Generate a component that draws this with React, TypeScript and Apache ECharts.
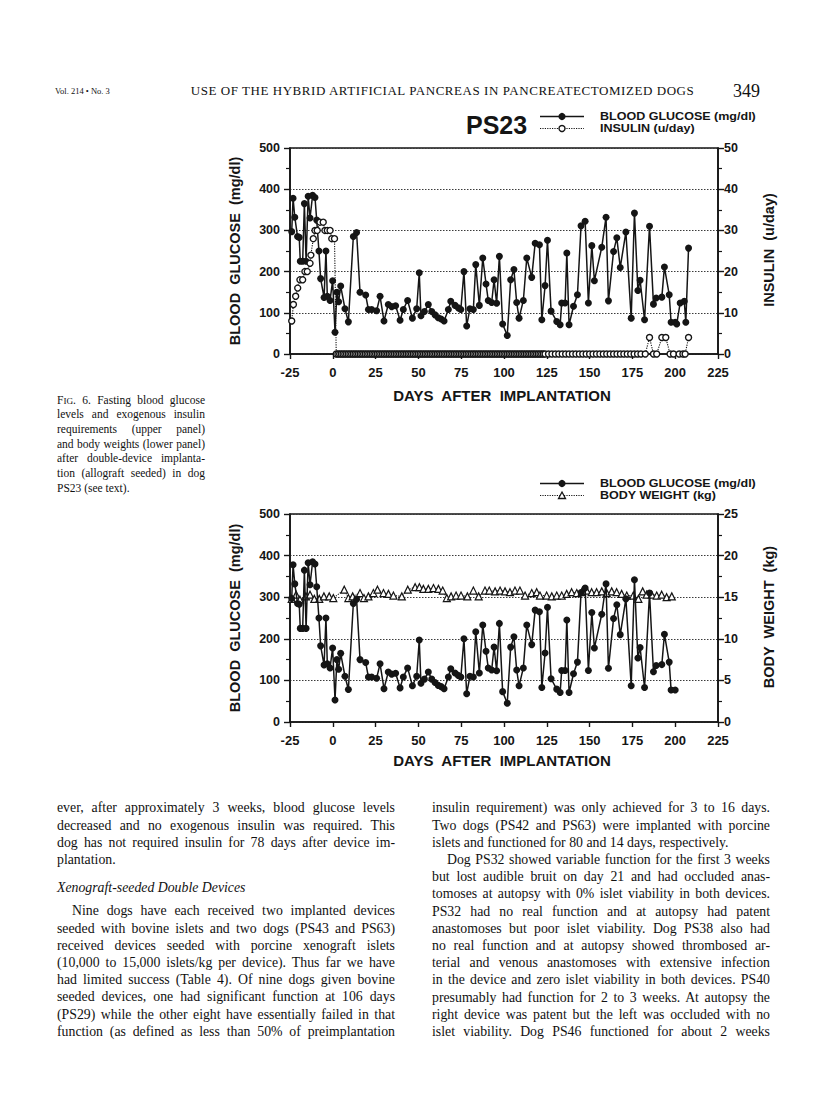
import React, { useEffect, useRef } from "react";
import * as echarts from "echarts";

// ---------------- DATA ----------------
const X_MIN = -25;
const X_MAX = 225;
const X_STEP = 25;

// Fasting blood glucose (mg/dl), by day after implantation
const GLUCOSE_DAYS = [
  -24.0, -23.2, -22.2, -20.6, -19.6, -19.0, -17.6, -16.6, -15.6, -14.4,
  -13.3, -11.8, -10.4, -9.4, -8.1, -7.1, -5.1, -4.0, -3.2, -1.6,
  -0.1, 1.3, 2.4, 3.4, 4.6, 7.1, 9.1, 12.0, 13.9, 15.9,
  19.2, 20.8, 22.7, 25.6, 27.6, 29.9, 32.4, 34.4, 36.7, 39.3,
  41.2, 43.7, 46.5, 49.0, 50.5, 51.5, 53.5, 55.8, 57.8, 59.7,
  61.6, 63.3, 65.0, 67.5, 68.9, 71.4, 73.3, 74.8, 76.6, 78.2,
  80.1, 82.1, 83.5, 85.6, 87.6, 89.5, 90.8, 92.8, 94.2, 95.7,
  97.3, 99.2, 101.9, 103.9, 105.8, 107.4, 108.8, 111.3, 113.3, 116.2,
  118.2, 120.7, 122.1, 124.0, 125.4, 127.5, 130.8, 132.8, 133.7, 135.7,
  136.7, 138.0, 140.6, 142.9, 145.0, 147.4, 149.3, 151.3, 152.8, 157.1,
  159.6, 161.0, 164.0, 165.9, 167.9, 171.2, 174.3, 176.2, 178.2, 179.5,
  182.1, 185.0, 187.3, 188.9, 192.2, 193.7, 196.5, 197.6, 200.0, 200.9,
  202.9, 205.3, 206.2, 207.8,
];
const GLUCOSE_MG_DL = [
  297, 378, 332, 285, 283, 225, 225, 365, 225, 383,
  330, 385, 380, 325, 250, 183, 137, 250, 140, 130,
  178, 53, 150, 127, 165, 110, 78, 285, 295, 150,
  143, 108, 108, 105, 140, 80, 120, 115, 117, 82,
  108, 130, 87, 110, 197, 93, 103, 120, 103, 95,
  88, 85, 80, 108, 128, 118, 112, 108, 200, 68,
  110, 108, 217, 118, 233, 170, 130, 125, 180, 123,
  237, 73, 45, 180, 205, 125, 87, 130, 233, 186,
  269, 265, 83, 166, 276, 104, 79, 71, 124, 124,
  245, 71, 116, 144, 311, 322, 124, 263, 178, 259,
  332, 129, 249, 282, 210, 296, 87, 342, 154, 179,
  83, 310, 121, 136, 138, 211, 144, 77, 77, 73,
  124, 128, 77, 257,
];

// Exogenous insulin (u/day)
const INSULIN_DAYS = [
  -24.0, -23.0, -21.7, -20.5, -19.2, -17.6, -16.3, -14.9, -13.3, -12.8,
  -11.4, -10.4, -9.1, -7.5, -5.6, -4.6, -3.2, -1.6, -0.6, 1.0,
  2, 3, 4, 5, 6, 7, 8, 9, 10, 11, 12, 13, 14, 15, 16, 17, 18, 19, 20, 21,
  22, 23, 24, 25, 26, 27, 28, 29, 30, 31, 32, 33, 34, 35, 36, 37, 38, 39, 40, 41,
  42, 43, 44, 45, 46, 47, 48, 49, 50, 51, 52, 53, 54, 55, 56, 57, 58, 59, 60, 61,
  62, 63, 64, 65, 66, 67, 68, 69, 70, 71, 72, 73, 74, 75, 76, 77, 78, 79, 80, 81,
  82, 83, 84, 85, 86, 87, 88, 89, 90, 91, 92, 93, 94, 95, 96, 97, 98, 99, 100, 101,
  102, 103, 104, 105, 106, 107, 108, 109, 110, 111, 112, 113, 114, 115, 116, 117, 118, 119, 120, 121,
  122, 123, 124, 126, 128, 130, 132, 134, 136, 138, 140, 142, 144, 146, 148, 150, 152, 154, 156, 158,
  160, 162, 164, 166, 168, 170, 172, 174, 176, 178, 180, 182.5,
  185.0, 187.3, 189.2, 192.2, 194.5, 197.0, 199.0, 202.3, 204.5, 205.8, 207.8,
];
const INSULIN_U_DAY = [
  8, 12, 14, 16, 18, 18, 20, 20, 22, 24,
  28, 30, 30, 32, 32, 30, 30, 30, 28, 28,
  0, 0, 0, 0, 0, 0, 0, 0, 0, 0, 0, 0, 0, 0, 0, 0, 0, 0, 0, 0,
  0, 0, 0, 0, 0, 0, 0, 0, 0, 0, 0, 0, 0, 0, 0, 0, 0, 0, 0, 0,
  0, 0, 0, 0, 0, 0, 0, 0, 0, 0, 0, 0, 0, 0, 0, 0, 0, 0, 0, 0,
  0, 0, 0, 0, 0, 0, 0, 0, 0, 0, 0, 0, 0, 0, 0, 0, 0, 0, 0, 0,
  0, 0, 0, 0, 0, 0, 0, 0, 0, 0, 0, 0, 0, 0, 0, 0, 0, 0, 0, 0,
  0, 0, 0, 0, 0, 0, 0, 0, 0, 0, 0, 0, 0, 0, 0, 0, 0, 0, 0, 0,
  0, 0, 0, 0, 0, 0, 0, 0, 0, 0, 0, 0, 0, 0, 0, 0, 0, 0, 0, 0,
  0, 0, 0, 0, 0, 0, 0, 0, 0, 0, 0, 0,
  4, 0, 0, 4, 4, 0, 0, 0, 0, 0, 4,
];

// Body weight (kg)
const WEIGHT_DAYS = [
  -24.0, -21.4, -19.2, -15.7, -13.3, -10.8, -7.9, -5.2, -2.1, 0.3,
  6.7, 9.1, 11.6, 15.9, 18.2, 20.8, 23.7, 26.1, 29.6, 32.5,
  35.4, 40.3, 43.8, 48.1, 50.6, 52.9, 55.8, 58.8, 61.7, 64.2,
  66.6, 69.1, 72.0, 74.9, 78.6, 82.1, 85.2, 88.9, 91.4, 94.8,
  97.7, 100.6, 103.5, 106.4, 109.3, 112.3, 116.2, 119.1, 121.0, 124.9,
  127.9, 130.8, 133.7, 136.6, 139.5, 142.5, 145.4, 148.3, 151.2, 154.1,
  157.1, 160.0, 162.9, 165.8, 168.7, 171.7, 175.5, 178.5, 181.0, 183.3,
  186.3, 189.2, 192.1, 195.0, 198.0,
];
const WEIGHT_KG = [
  14.8, 15.3, 14.7, 15.1, 15.3, 14.8, 14.8, 15.1, 15.1, 14.9,
  15.9, 14.9, 15.1, 15.5, 14.9, 15.1, 15.5, 15.9, 15.5, 15.4,
  15.2, 15.1, 15.9, 16.2, 16.2, 16.0, 16.0, 16.1, 16.0, 15.8,
  14.9, 15.1, 15.2, 15.2, 15.1, 15.8, 15.1, 15.8, 15.8, 15.7,
  15.8, 15.7, 15.6, 15.8, 15.8, 15.2, 15.5, 15.6, 15.2, 15.2,
  15.1, 15.2, 15.2, 15.4, 15.6, 15.5, 15.6, 15.8, 15.6, 15.6,
  15.7, 15.5, 15.7, 15.6, 15.4, 15.2, 15.2, 14.8, 15.7, 15.3,
  15.3, 15.2, 15.3, 15.0, 15.1,
];

// glucose shown in the lower panel runs to this day
const LOWER_PANEL_LAST_DAY = 200;

// ---------------- STYLE ----------------
const INK = "#151515";
const SANS = "'Liberation Sans', Arial, Helvetica, sans-serif";
const SERIF = "'Liberation Serif', 'Times New Roman', Times, serif";

const glucosePairs = GLUCOSE_DAYS.map((d, i) => [d, GLUCOSE_MG_DL[i]]);
const lowerGlucosePairs = glucosePairs.filter((p) => p[0] <= LOWER_PANEL_LAST_DAY);
const insulinPairs = INSULIN_DAYS.map((d, i) => [d, INSULIN_U_DAY[i]]);
const weightPairs = WEIGHT_DAYS.map((d, i) => [d, WEIGHT_KG[i]]);

function xAxis(gridIndex: number) {
  return {
    type: "value",
    gridIndex,
    min: X_MIN,
    max: X_MAX,
    interval: X_STEP,
    axisLine: { show: true, onZero: false, lineStyle: { color: INK, width: 1.6 } },
    axisTick: { show: true, length: 5, lineStyle: { color: INK, width: 1.4 } },
    axisLabel: { color: INK, fontFamily: SANS, fontWeight: "bold", fontSize: 13, margin: 12 },
    splitLine: { show: false },
  };
}

function yAxis(gridIndex: number, position: string, max: number, interval: number, grid: boolean) {
  return {
    type: "value",
    gridIndex,
    position,
    min: 0,
    max,
    interval,
    axisLine: { show: true, onZero: false, lineStyle: { color: INK, width: 1.6 } },
    axisTick: { show: true, length: 6, lineStyle: { color: INK, width: 1.4 } },
    minorTick: { show: true, splitNumber: 2, length: 4, lineStyle: { color: INK, width: 1.2 } },
    axisLabel: {
      color: INK,
      fontFamily: SANS,
      fontWeight: "bold",
      fontSize: 12.5,
      margin: position === "left" ? 10 : 6,
    },
    splitLine: { show: grid, lineStyle: { color: "#3a3a3a", type: [1.5, 1.5], width: 1 } },
  };
}

function t(x: number, y: number, text: string, size: number, align = "center", rot = 0, sx = 1) {
  return {
    type: "text",
    x,
    y,
    rotation: rot,
    scaleX: sx,
    silent: true,
    style: {
      text,
      fill: INK,
      fontFamily: SANS,
      fontWeight: "bold",
      fontSize: size,
      align,
      verticalAlign: "middle",
    },
  };
}

function legendLine(y: number, dotted: boolean) {
  return {
    type: "line",
    silent: true,
    shape: { x1: 540, y1: y, x2: 584, y2: y },
    style: { stroke: INK, lineWidth: dotted ? 1.1 : 1.6, lineDash: dotted ? [1.2, 1.2] : null },
  };
}

const LEG_FONT = 10.8;
const LEG_SX = 1.16;

const graphics: any[] = [
  // upper legend
  t(466, 125, "PS23", 25, "left"),
  legendLine(116.5, false),
  { type: "circle", silent: true, shape: { cx: 562, cy: 116.5, r: 3.6 }, style: { fill: INK } },
  legendLine(128.5, true),
  { type: "circle", silent: true, shape: { cx: 562, cy: 128.5, r: 3 }, style: { fill: "#fff", stroke: INK, lineWidth: 1.4 } },
  t(600, 116, "BLOOD GLUCOSE (mg/dl)", LEG_FONT, "left", 0, LEG_SX),
  t(600, 128, "INSULIN (u/day)", LEG_FONT, "left", 0, LEG_SX),
  // upper axis titles
  t(235, 251, "BLOOD  GLUCOSE  (mg/dl)", 14.5, "center", Math.PI / 2),
  t(769, 250, "INSULIN  (u/day)", 14.5, "center", Math.PI / 2),
  t(502, 395, "DAYS  AFTER  IMPLANTATION", 15),
  // lower legend
  legendLine(483.5, false),
  { type: "circle", silent: true, shape: { cx: 562, cy: 483.5, r: 3.6 }, style: { fill: INK } },
  legendLine(495.5, true),
  {
    type: "polygon",
    silent: true,
    shape: { points: [[562, 492], [565.5, 498.5], [558.5, 498.5]] },
    style: { fill: "#fff", stroke: INK, lineWidth: 1.3 },
  },
  t(600, 483, "BLOOD GLUCOSE (mg/dl)", LEG_FONT, "left", 0, LEG_SX),
  t(600, 495, "BODY WEIGHT (kg)", LEG_FONT, "left", 0, LEG_SX),
  // lower axis titles
  t(235, 618, "BLOOD  GLUCOSE  (mg/dl)", 14.5, "center", Math.PI / 2),
  t(769, 617, "BODY  WEIGHT  (kg)", 14.5, "center", Math.PI / 2),
  t(502, 760, "DAYS  AFTER  IMPLANTATION", 15),
];

const option: any = {
  animation: false,
  backgroundColor: "transparent",
  grid: [
    { left: 290, top: 148, width: 428, height: 206, show: true, borderColor: INK, borderWidth: 1.6, backgroundColor: "transparent" },
    { left: 290, top: 514, width: 428, height: 208, show: true, borderColor: INK, borderWidth: 1.6, backgroundColor: "transparent" },
  ],
  xAxis: [xAxis(0), xAxis(1)],
  yAxis: [
    yAxis(0, "left", 500, 100, true),
    yAxis(0, "right", 50, 10, false),
    yAxis(1, "left", 500, 100, true),
    yAxis(1, "right", 25, 5, false),
  ],
  series: [
    {
      name: "BLOOD GLUCOSE (mg/dl)",
      type: "line",
      xAxisIndex: 0,
      yAxisIndex: 0,
      data: glucosePairs,
      symbol: "circle",
      symbolSize: 7,
      showAllSymbol: true,
      itemStyle: { color: INK },
      lineStyle: { color: INK, width: 1.5 },
      z: 3,
    },
    {
      name: "INSULIN (u/day)",
      type: "line",
      xAxisIndex: 0,
      yAxisIndex: 1,
      data: insulinPairs,
      symbol: "circle",
      symbolSize: 6,
      showAllSymbol: true,
      itemStyle: { color: "#fff", borderColor: INK, borderWidth: 1.4 },
      lineStyle: { color: INK, width: 1.1, type: [1.2, 1.2] },
      z: 4,
    },
    {
      name: "BODY WEIGHT (kg)",
      type: "line",
      xAxisIndex: 1,
      yAxisIndex: 3,
      data: weightPairs,
      symbol: "triangle",
      symbolSize: 7,
      showAllSymbol: true,
      itemStyle: { color: "#fff", borderColor: INK, borderWidth: 1.2 },
      lineStyle: { color: INK, width: 1.1, type: [1.2, 1.2] },
      z: 3,
    },
    {
      name: "BLOOD GLUCOSE (mg/dl) ",
      type: "line",
      xAxisIndex: 1,
      yAxisIndex: 2,
      data: lowerGlucosePairs,
      symbol: "circle",
      symbolSize: 7,
      showAllSymbol: true,
      itemStyle: { color: INK },
      lineStyle: { color: INK, width: 1.5 },
      z: 4,
    },
  ],
  graphic: graphics,
};

// ---------------- PAGE TEXT ----------------
type L = { text: React.ReactNode; cy: number; full?: boolean; indent?: boolean; italic?: boolean };

const LEFT_COL: L[] = [
  { text: "ever, after approximately 3 weeks, blood glucose levels", cy: 808, full: true },
  { text: "decreased and no exogenous insulin was required. This", cy: 825.2, full: true },
  { text: "dog has not required insulin for 78 days after device im-", cy: 842.4, full: true },
  { text: "plantation.", cy: 859.6 },
  { text: "Xenograft-seeded Double Devices", cy: 887.5, italic: true },
  { text: "Nine dogs have each received two implanted devices", cy: 911, full: true, indent: true },
  { text: "seeded with bovine islets and two dogs (PS43 and PS63)", cy: 928.2, full: true },
  { text: "received devices seeded with porcine xenograft islets", cy: 945.4, full: true },
  { text: "(10,000 to 15,000 islets/kg per device). Thus far we have", cy: 962.6, full: true },
  { text: "had limited success (Table 4). Of nine dogs given bovine", cy: 979.8, full: true },
  { text: "seeded devices, one had significant function at 106 days", cy: 997, full: true },
  { text: "(PS29) while the other eight have essentially failed in that", cy: 1014.2, full: true },
  { text: "function (as defined as less than 50% of preimplantation", cy: 1031.4, full: true },
];

const RIGHT_TEXT = [
  "insulin requirement) was only achieved for 3 to 16 days.",
  "Two dogs (PS42 and PS63) were implanted with porcine",
  "islets and functioned for 80 and 14 days, respectively.",
  "Dog PS32 showed variable function for the first 3 weeks",
  "but lost audible bruit on day 21 and had occluded anas-",
  "tomoses at autopsy with 0% islet viability in both devices.",
  "PS32 had no real function and at autopsy had patent",
  "anastomoses but poor islet viability. Dog PS38 also had",
  "no real function and at autopsy showed thrombosed ar-",
  "terial and venous anastomoses with extensive infection",
  "in the device and zero islet viability in both devices. PS40",
  "presumably had function for 2 to 3 weeks. At autopsy the",
  "right device was patent but the left was occluded with no",
  "islet viability. Dog PS46 functioned for about 2 weeks",
];
const RIGHT_COL: L[] = RIGHT_TEXT.map((text, i) => ({
  text,
  cy: 808 + i * 17.2,
  full: i !== 2,
  indent: i === 3,
}));

const CAPTION: L[] = [
  {
    text: (
      <>
        F<span style={{ fontSize: "0.8em" }}>IG</span>. 6. Fasting blood glucose
      </>
    ),
    cy: 400,
    full: true,
  },
  { text: "levels and exogenous insulin", cy: 414.7, full: true },
  { text: "requirements (upper panel)", cy: 429.4, full: true },
  { text: "and body weights (lower panel)", cy: 444.1, full: true },
  { text: "after double-device implanta-", cy: 458.8, full: true },
  { text: "tion (allograft seeded) in dog", cy: 473.5, full: true },
  { text: "PS23 (see text).", cy: 488.2 },
];

function TextBlock({ lines, left, width, size, lh }: { lines: L[]; left: number; width: number; size: number; lh: number }) {
  return (
    <>
      {lines.map((l, i) => (
        <div
          key={i}
          style={{
            position: "absolute",
            left: left + (l.indent ? 15 : 0),
            width: width - (l.indent ? 15 : 0),
            top: l.cy - lh / 2,
            height: lh,
            lineHeight: lh + "px",
            fontFamily: SERIF,
            fontSize: size,
            fontStyle: l.italic ? "italic" : "normal",
            color: "#111",
            textAlign: l.full ? "justify" : "left",
            textAlignLast: l.full ? "justify" : "left",
            overflow: "visible",
          } as any}
        >
          {l.text}
        </div>
      ))}
    </>
  );
}

export default function App() {
  const ref = useRef<HTMLDivElement>(null);
  useEffect(() => {
    if (!ref.current) return;
    const chart = echarts.init(ref.current, null, { renderer: "svg", width: 816, height: 1114 });
    chart.setOption(option);
    return () => chart.dispose();
  }, []);

  return (
    <div style={{ position: "absolute", left: 0, top: 0, width: 816, height: 1114, background: "#fff", overflow: "hidden" }}>
      {/* running head */}
      <div style={{ position: "absolute", left: 55, top: 85, height: 12, lineHeight: "12px", fontFamily: SERIF, fontSize: 8.5, color: "#111", whiteSpace: "nowrap" }}>
        Vol. 214 • No. 3
      </div>
      <div style={{ position: "absolute", left: 180, top: 83, width: 525, height: 16, lineHeight: "16px", fontFamily: SERIF, fontSize: 13, letterSpacing: "0.55px", color: "#111", whiteSpace: "nowrap", textAlign: "center" }}>
        USE OF THE HYBRID ARTIFICIAL PANCREAS IN PANCREATECTOMIZED DOGS
      </div>
      <div style={{ position: "absolute", left: 733, top: 80, height: 22, lineHeight: "22px", fontFamily: SERIF, fontSize: 18, color: "#111", whiteSpace: "nowrap" }}>
        349
      </div>

      <TextBlock lines={CAPTION} left={57} width={148} size={11.5} lh={14.7} />
      <TextBlock lines={LEFT_COL} left={57} width={338} size={13.8} lh={17.2} />
      <TextBlock lines={RIGHT_COL} left={432} width={338} size={13.8} lh={17.2} />

      <div ref={ref} style={{ position: "absolute", left: 0, top: 0, width: 816, height: 1114 }} />
    </div>
  );
}
